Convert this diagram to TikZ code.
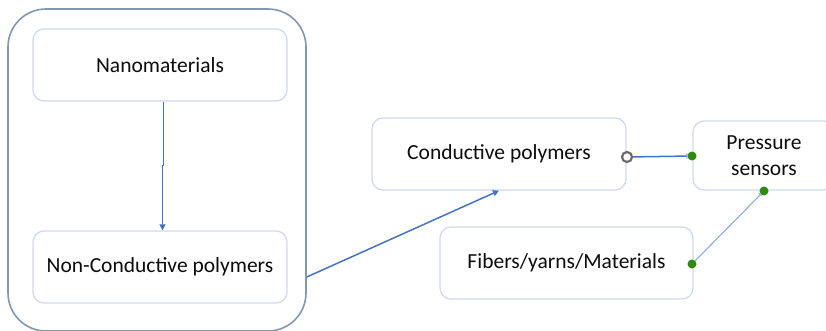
\documentclass[tikz,border=0pt]{standalone}
\usepackage{fontspec}
\setmainfont{Carlito}
\usetikzlibrary{arrows.meta,calc}
\definecolor{boxline}{HTML}{D0D9F0}
\definecolor{outerline}{HTML}{8497B0}
\definecolor{arrowblue}{HTML}{4472C4}
\definecolor{lightarrow}{HTML}{8FAADC}
\definecolor{dotgreen}{HTML}{2E8B0F}
\definecolor{ringgray}{HTML}{6E6B6B}
\definecolor{txt}{HTML}{0D0D0D}
\begin{document}
\begin{tikzpicture}[x=1pt,y=-1pt,
  box/.style={draw=boxline,line width=1.3pt,rounded corners=11pt,fill=white,inner sep=0pt,
    font=\fontsize{21.5}{26}\selectfont,text=txt,align=center},
  container/.style={draw=outerline,line width=1.6pt,rounded corners=38pt,inner sep=0pt},
  gdot/.style={circle,fill=dotgreen,minimum size=9pt,inner sep=0pt},
  odot/.style={circle,draw=ringgray,line width=2.2pt,fill=white,minimum size=10pt,inner sep=0pt},
  mainarrow/.style={draw=arrowblue,line width=1.5pt,-{Triangle[width=6pt,length=6pt]}},
  linkline/.style={draw=arrowblue,line width=1.5pt,-{Bar[width=5pt,line width=0.8pt]}},
  lightlink/.style={draw=lightarrow,line width=1.1pt,-{Bar[width=5pt,line width=0.8pt]}}
]
\useasboundingbox (0,0) rectangle (826,331);
\node[container,minimum width=298pt,minimum height=322pt] (container) at (157,170) {};
\node[box,minimum width=254pt,minimum height=72pt] (nano) at (160,65) {Nanomaterials};
\node[box,minimum width=254pt,minimum height=72pt] (non) at (160,267) {Non-Conductive polymers};
\node[box,minimum width=254pt,minimum height=72pt] (cond) at (499,154) {Conductive polymers};
\node[box,minimum width=142pt,minimum height=69pt] (press) at (764,155.5) {Pressure\\sensors};
\node[box,minimum width=253pt,minimum height=72pt] (fib) at (566.5,263) {Fibers/yarns/Materials};
\node[gdot] (d1) at (692,156) {};
\node[gdot] (d2) at (764,191) {};
\node[gdot] (d3) at (692,264) {};
\node[odot] (oc) at (627,157) {};
\draw[mainarrow] ([xshift=3.5pt]nano.south) -- ++(0,64) -- ++(-1,0) -- ([xshift=2.5pt]non.north);
\draw[mainarrow] ([yshift=-107pt]container.east) -- (cond.south);
\draw[linkline] (oc) -- (d1);
\draw[lightlink] (d3) -- (d2);
\end{tikzpicture}
\end{document}
